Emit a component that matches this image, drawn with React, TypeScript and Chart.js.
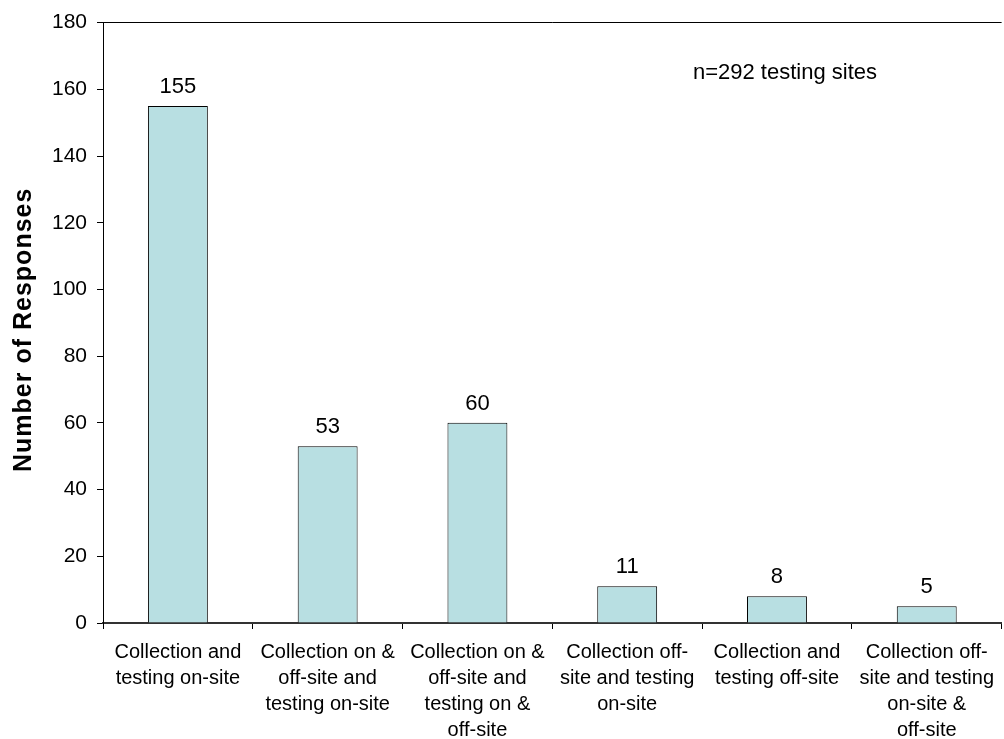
import React, { useEffect, useRef } from "react";
import { Chart, registerables } from "chart.js";

Chart.register(...registerables);

const categories: string[][] = [
  ["Collection and", "testing on-site"],
  ["Collection on &", "off-site and", "testing on-site"],
  ["Collection on &", "off-site and", "testing on &", "off-site"],
  ["Collection off-", "site and testing", "on-site"],
  ["Collection and", "testing off-site"],
  ["Collection off-", "site and testing", "on-site &", "off-site"],
];
const responses: number[] = [155, 53, 60, 11, 8, 5];
const yTitle = "Number of Responses";
const note = "n=292 testing sites";
const FONT = "'Liberation Sans', Arial, sans-serif";

export default function App() {
  const ref = useRef<HTMLCanvasElement>(null);
  useEffect(() => {
    if (!ref.current) return;
    const labelPlugin = {
      id: "labels",
      afterDatasetsDraw(chart: any) {
        const ctx = chart.ctx;
        const meta = chart.getDatasetMeta(0);
        const xs = chart.scales.x;
        const ys = chart.scales.y;
        ctx.save();
        ctx.fillStyle = "#000";
        ctx.font = `22px ${FONT}`;
        ctx.textAlign = "center";
        ctx.textBaseline = "alphabetic";
        meta.data.forEach((el: any, i: number) => {
          ctx.fillText(String(responses[i]), el.x, el.y - 13);
        });
        ctx.font = `22px ${FONT}`;
        ctx.textBaseline = "middle";
        ctx.fillText(note, xs.getPixelForValue(4) + 8, ys.getPixelForValue(165));
        // y-axis title
        ctx.font = `bold 25px ${FONT}`;
        (ctx as any).letterSpacing = "1px";
        ctx.translate(24, (ys.top + ys.bottom) / 2 + 7);
        ctx.rotate(-Math.PI / 2);
        ctx.fillText(yTitle, 0, 0);
        ctx.restore();
      },
    };
    const chart = new Chart(ref.current, {
      type: "bar",
      data: {
        labels: categories,
        datasets: [
          {
            data: responses,
            backgroundColor: "#b8dfe2",
            borderColor: "#000",
            borderWidth: 1,
            barPercentage: 0.4,
            categoryPercentage: 1,
          },
        ],
      },
      options: {
        animation: false,
        responsive: false,
        maintainAspectRatio: false,
        layout: { padding: { top: 13, right: -3, bottom: 0, left: 0 } },
        plugins: { legend: { display: false }, tooltip: { enabled: false } },
        scales: {
          x: {
            offset: true,
            afterFit: (s: any) => {
              s.height = 116;
            },
            grid: {
              offset: true,
              drawOnChartArea: false,
              color: "#000",
              tickLength: 6,
            },
            border: { color: "#333", width: 2 },
            ticks: {
              color: "#000",
              font: { size: 20, family: FONT, lineHeight: 1.3 },
              maxRotation: 0,
              autoSkip: false,
              padding: 10,
            },
          },
          y: {
            min: 0,
            max: 180,
            afterFit: (s: any) => {
              s.width = 103;
            },
            grid: {
              color: (c: any) => (c.tick && c.tick.value === 180 ? "#000" : "rgba(0,0,0,0)"),
              tickColor: "#000",
              tickLength: 6,
            },
            border: { color: "#000", width: 1 },
            ticks: {
              stepSize: 20,
              color: "#000",
              font: { size: 21, family: FONT },
              padding: 10,
            },
          },
        },
      },
      plugins: [labelPlugin],
    });
    return () => chart.destroy();
  }, []);
  return (
    <div style={{ position: "fixed", left: 0, top: 0, width: 1004, height: 739, background: "#fff" }}>
      <canvas ref={ref} width={1004} height={739} />
    </div>
  );
}
